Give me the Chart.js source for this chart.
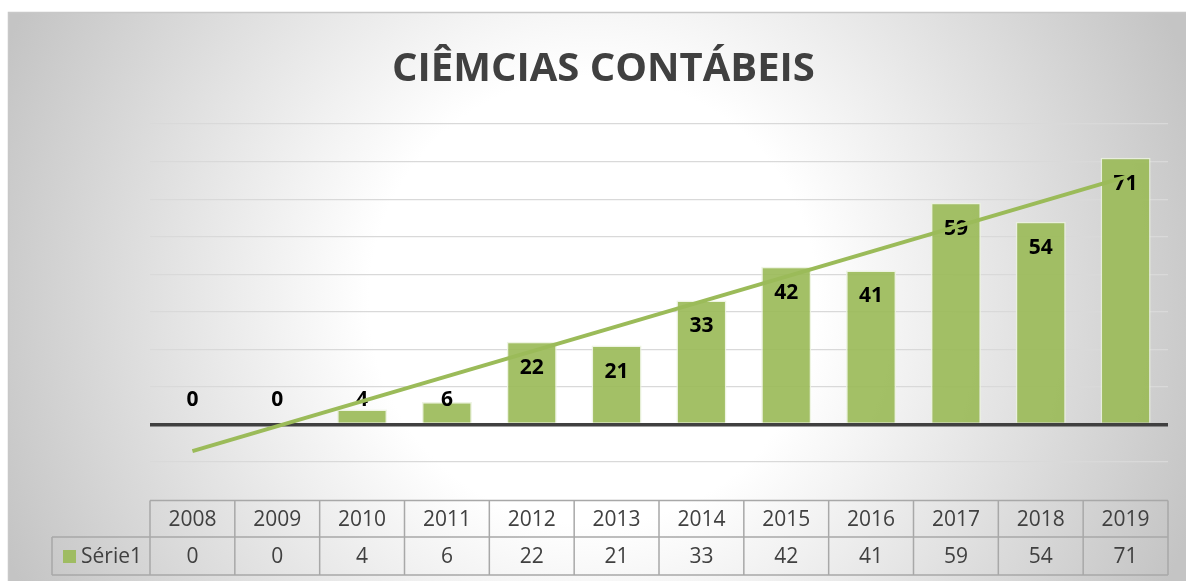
<!DOCTYPE html>
<html>
<head>
<meta charset="utf-8">
<script src="https://cdn.jsdelivr.net/npm/chart.js@4/dist/chart.umd.min.js"></script>
<style>
  html, body { margin: 0; padding: 0; background: #ffffff; }
  #wrap { width: 1186px; height: 581px; position: relative; }
</style>
</head>
<body>
<div id="wrap"><canvas id="c" width="1186" height="581"></canvas></div>
<script>
const chartTitle = "CIÊMCIAS CONTÁBEIS";
const categories = ["2008","2009","2010","2011","2012","2013","2014","2015","2016","2017","2018","2019"];
const seriesName = "Série1";
const values = [0, 0, 4, 6, 22, 21, 33, 42, 41, 59, 54, 71];
// linear trend line at first and last category
const trendValues = [-7.1, null, null, null, null, null, null, null, null, null, null, 65.9];
const yMin = -10, yMax = 80, yStep = 10;

const GREEN = "rgba(155,187,89,0.92)";
const TEXT = "#404040";
const FONT = "'Open Sans', 'Noto Sans', sans-serif";

const backgroundPlugin = {
  id: "bg",
  beforeDraw(chart) {
    const ctx = chart.ctx;
    ctx.save();
    ctx.fillStyle = "#ffffff";
    ctx.fillRect(0, 0, chart.width, chart.height);
    const g = ctx.createRadialGradient(593, 300, 0, 593, 300, 640);
    g.addColorStop(0, "#ffffff");
    g.addColorStop(0.35, "#ffffff");
    g.addColorStop(1, "#c4c4c4");
    ctx.fillStyle = g;
    ctx.fillRect(8, 12, chart.width, chart.height);
    ctx.strokeStyle = "#c8c8c8";
    ctx.lineWidth = 1.5;
    ctx.beginPath();
    ctx.moveTo(8.5, chart.height);
    ctx.lineTo(8.5, 12.5);
    ctx.lineTo(chart.width, 12.5);
    ctx.stroke();
    ctx.restore();
  }
};

const labelPlugin = {
  id: "barLabels",
  afterDatasetDraw(chart, args) {
    if (args.index !== 0) return;
    const ctx = chart.ctx;
    const y = chart.scales.y;
    const zeroY = y.getPixelForValue(0);
    ctx.save();
    ctx.font = "bold 21px " + FONT;
    ctx.fillStyle = "#000000";
    ctx.textAlign = "center";
    ctx.textBaseline = "middle";
    args.meta.data.forEach((bar, i) => {
      const top = bar.y;
      const cy = Math.min(top + 26, zeroY - 24);
      ctx.fillText(String(values[i]), bar.x, cy);
    });
    ctx.restore();
  }
};

const tablePlugin = {
  id: "dataTable",
  afterDraw(chart) {
    const ctx = chart.ctx;
    const xs = chart.scales.x;
    const left = chart.chartArea.left, right = chart.chartArea.right;
    const n = categories.length;
    const cw = (right - left) / n;
    const r0 = 500.5, r1 = 537, r2 = 575;
    const legL = 52;
    ctx.save();
    ctx.strokeStyle = "#a8a8a8";
    ctx.lineWidth = 1.5;
    ctx.beginPath();
    ctx.moveTo(left, r0); ctx.lineTo(right, r0);
    ctx.moveTo(legL, r1); ctx.lineTo(right, r1);
    ctx.moveTo(legL, r2); ctx.lineTo(right, r2);
    ctx.moveTo(legL, r1); ctx.lineTo(legL, r2);
    for (let i = 0; i <= n; i++) {
      const x = left + i * cw;
      ctx.moveTo(x, r0); ctx.lineTo(x, r2);
    }
    ctx.stroke();

    ctx.fillStyle = TEXT;
    ctx.font = "21px " + FONT;
    ctx.textAlign = "center";
    ctx.textBaseline = "middle";
    categories.forEach((c, i) => {
      const x = xs.getPixelForValue(i);
      ctx.fillText(c, x, (r0 + r1) / 2 + 1);
      ctx.fillText(String(values[i]), x, (r1 + r2) / 2 + 1);
    });
    ctx.fillStyle = GREEN;
    ctx.fillRect(63, 550, 13, 13);
    ctx.fillStyle = TEXT;
    ctx.textAlign = "left";
    ctx.fillText(seriesName, 81, (r1 + r2) / 2 + 1);
    ctx.restore();
  }
};

new Chart(document.getElementById("c"), {
  type: "bar",
  data: {
    labels: categories,
    datasets: [
      {
        type: "bar",
        label: seriesName,
        data: values,
        backgroundColor: GREEN,
        borderColor: "rgba(235,242,222,0.85)",
        borderWidth: 1.5,
        barPercentage: 0.59,
        categoryPercentage: 1.0,
        order: 1
      },
      {
        type: "line",
        label: "Linear (" + seriesName + ")",
        data: trendValues,
        spanGaps: true,
        borderColor: "rgba(155,187,89,1)",
        borderWidth: 4,
        pointRadius: 0,
        fill: false,
        order: 0
      }
    ]
  },
  plugins: [backgroundPlugin, labelPlugin, tablePlugin],
  options: {
    responsive: false,
    animation: false,
    devicePixelRatio: 1,
    layout: { padding: { left: 39, right: 18, top: 12, bottom: 119 } },
    plugins: {
      legend: { display: false },
      tooltip: { enabled: false },
      title: {
        display: true,
        text: chartTitle,
        color: TEXT,
        font: { family: FONT, size: 40, weight: "bold", lineHeight: 1.2 },
        padding: { top: 34, bottom: 30 }
      }
    },
    scales: {
      x: {
        display: true,
        grid: { display: false },
        border: { display: false },
        ticks: { display: false },
        afterFit(s) { s.height = 0; }
      },
      y: {
        min: yMin,
        max: yMax,
        display: true,
        border: { display: false },
        ticks: { display: false, stepSize: yStep },
        grid: {
          drawTicks: false,
          color: (c) => (c.tick && c.tick.value === 0 ? "#404040" : "#d9d9d9"),
          lineWidth: (c) => (c.tick && c.tick.value === 0 ? 3.5 : 1.2)
        },
        afterFit(s) { s.width = 111; }
      }
    }
  }
});
</script>
</body>
</html>
